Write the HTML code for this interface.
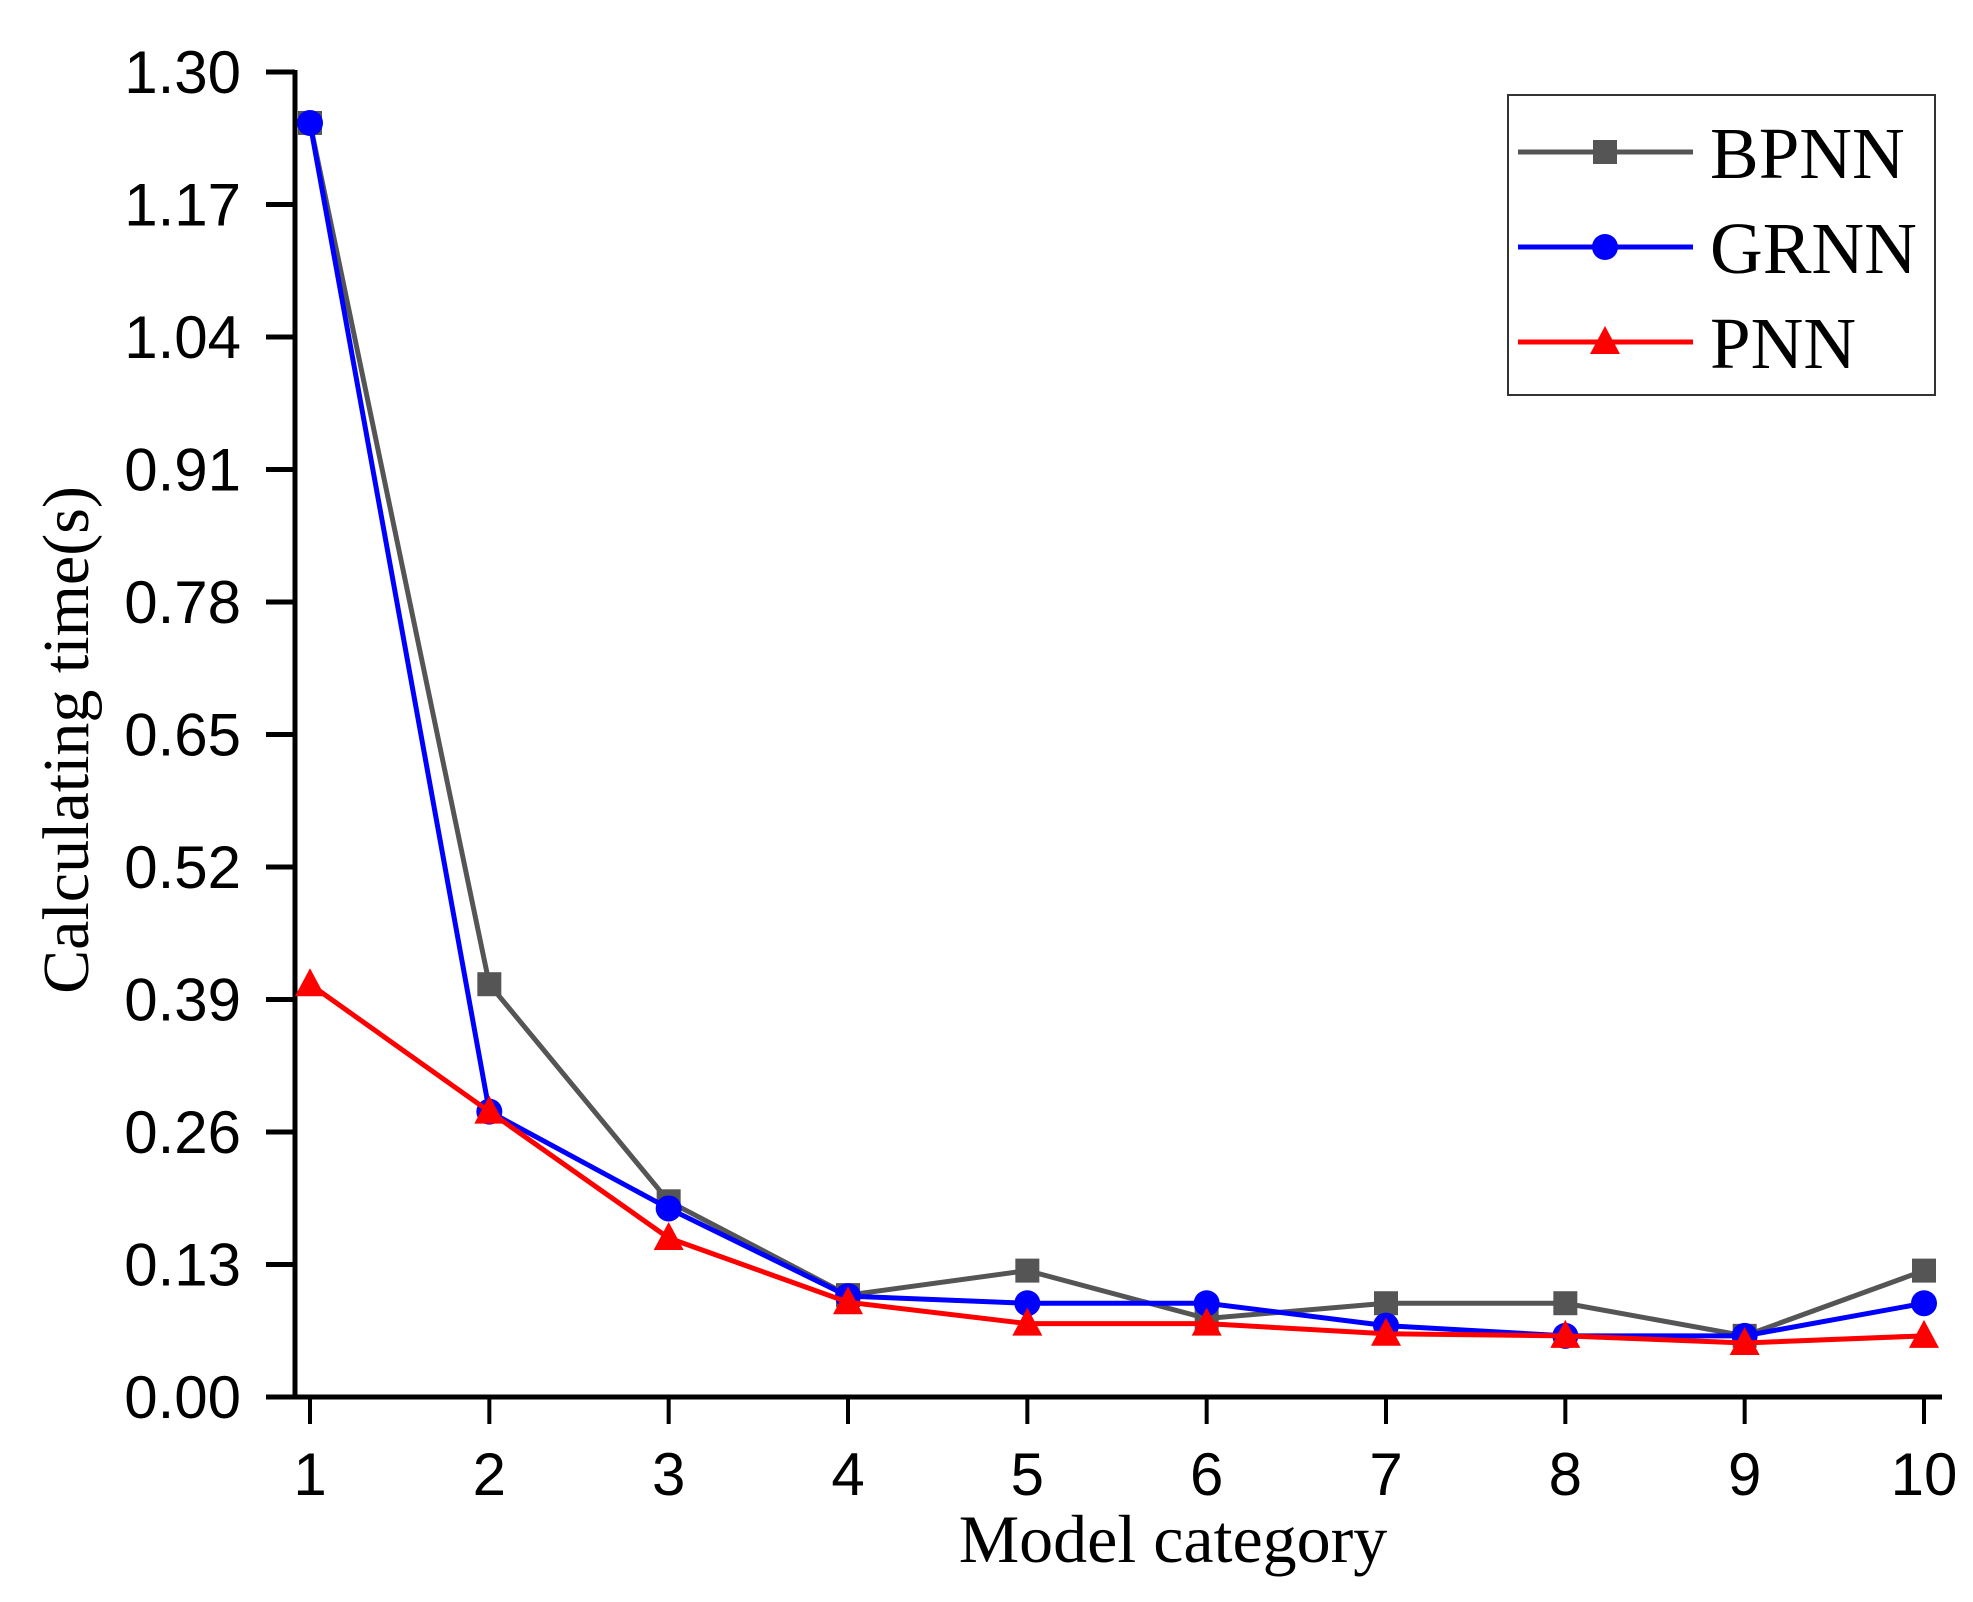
<!DOCTYPE html>
<html><head><meta charset="utf-8"><style>
html,body{margin:0;padding:0;background:#fff;}
svg{display:block;}
</style></head><body>
<svg id="chart" width="1973" height="1602" viewBox="0 0 1973 1602" xmlns="http://www.w3.org/2000/svg">
<g id="axes"></g>
<g id="series"></g>
<text transform="translate(88,740) rotate(-90)" text-anchor="middle" font-family="Liberation Serif, serif" font-size="66">Calculating time(s)</text>
<text x="1173" y="1562" text-anchor="middle" font-family="Liberation Serif, serif" font-size="68">Model category</text>
<g id="legend">
<rect x="1508" y="95" width="427" height="300" fill="#fff" stroke="#333" stroke-width="2"/>
</g>
</svg>
<script>
const categories = [1,2,3,4,5,6,7,8,9,10];
const yTicks = [0.00,0.13,0.26,0.39,0.52,0.65,0.78,0.91,1.04,1.17,1.30];
const bpnn = [1.25,0.405,0.192,0.10,0.124,0.077,0.092,0.092,0.06,0.124];
const grnn = [1.25,0.28,0.185,0.099,0.092,0.092,0.07,0.06,0.06,0.092];
const pnn  = [0.405,0.28,0.156,0.093,0.072,0.072,0.062,0.06,0.053,0.06];
const seriesNames = ["BPNN","GRNN","PNN"];

const NS = "http://www.w3.org/2000/svg";
const X0 = 295, YB = 1397, YT = 72, XA = 310, XB = 1924;
const ymax = 1.3;
const xs = c => XA + (c - 1) * (XB - XA) / 9;
const ys = v => YB - v / ymax * (YB - YT);
function mk(tag, attrs, parent){const e=document.createElementNS(NS,tag);for(const k in attrs)e.setAttribute(k,attrs[k]);parent.appendChild(e);return e;}
const axes = document.getElementById('axes');
let a = mk('line',{x1:X0,y1:YT-2,x2:X0,y2:YB,stroke:'#000','stroke-width':5},axes);


a = mk('line',{x1:X0-2,y1:YB,x2:XB+18,y2:YB,stroke:'#000','stroke-width':5},axes);


yTicks.forEach(v=>{
  const y = ys(v);
  const t = mk('line',{x1:X0-29,y1:y,x2:X0,y2:y,stroke:'#000','stroke-width':5},axes);
  
  
  const l = mk('text',{x:241,y:y+21,'text-anchor':'end','font-family':'Liberation Sans, sans-serif','font-size':60},axes);
  l.textContent = v.toFixed(2);
  
  
});
categories.forEach(c=>{
  const x = xs(c);
  const t = mk('line',{x1:x,y1:YB,x2:x,y2:YB+27,stroke:'#000','stroke-width':4},axes);
  
  
  const l = mk('text',{x:x,y:1495,'text-anchor':'middle','font-family':'Liberation Sans, sans-serif','font-size':60},axes);
  l.textContent = c;
  
  
});
function marker(type,x,y,color,parent){
  let m;
  if(type==='square') m = mk('rect',{x:x-12,y:y-12,width:24,height:24,fill:color},parent);
  else if(type==='circle') m = mk('circle',{cx:x,cy:y,r:13,fill:color},parent);
  else m = mk('polygon',{points:`${x},${y-16} ${x-15},${y+12} ${x+15},${y+12}`,fill:color},parent);
  return m;
}
const ser = document.getElementById('series');
const defs = [[bpnn,'#555','square'],[grnn,'#0000ff','circle'],[pnn,'#ff0000','triangle']];
defs.forEach((d,i)=>{
  const g = mk('g',{},ser);
  
  
  const pts = d[0].map((v,j)=>xs(categories[j])+','+ys(v)).join(' ');
  const pl = mk('polyline',{points:pts,fill:'none',stroke:d[1],'stroke-width':5},g);
  
  
  d[0].forEach((v,j)=>{
    const m = marker(d[2],xs(categories[j]),ys(v),d[1],g);
    
    
  });
});
const leg = document.getElementById('legend');
defs.forEach((d,i)=>{
  const y = 152 + i*95;
  const g = mk('g',{},leg);
  
  
  mk('line',{x1:1518,y1:y,x2:1693,y2:y,stroke:d[1],'stroke-width':5},g);
  marker(d[2],1605,y,d[1],g);
  const t = mk('text',{x:1710,y:y+26,'font-family':'Liberation Serif, serif','font-size':73},g);
  t.textContent = seriesNames[i];
});
</script>
</body></html>
